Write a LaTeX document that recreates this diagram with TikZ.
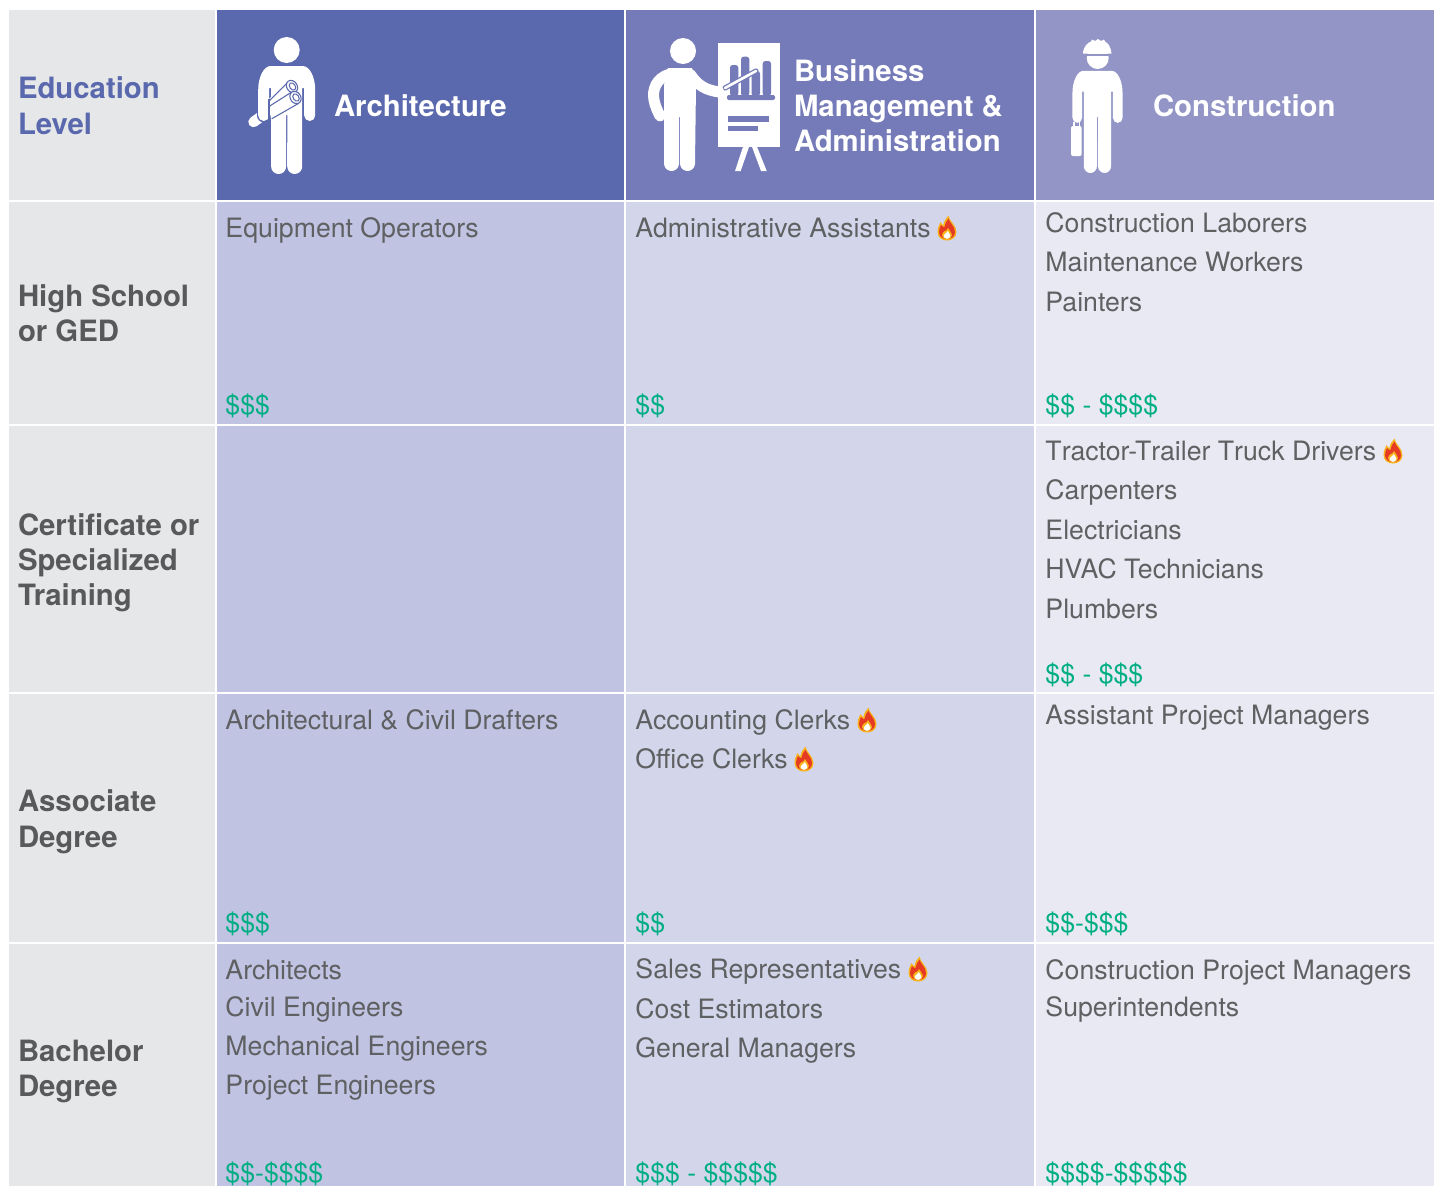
\documentclass[tikz,border=0pt]{standalone}
\usepackage{fontspec}
\setmainfont{TeX Gyre Heros}
\definecolor{hA}{HTML}{5A68AD}
\definecolor{hB}{HTML}{747BB8}
\definecolor{hC}{HTML}{9295C6}
\definecolor{cA}{HTML}{C0C3E2}
\definecolor{cB}{HTML}{D3D6EA}
\definecolor{cC}{HTML}{E9E9F3}
\definecolor{cL}{HTML}{E6E7E8}
\definecolor{txt}{HTML}{5F6062}
\definecolor{boldtxt}{HTML}{58595B}
\definecolor{money}{HTML}{00AE84}
\definecolor{flameR}{HTML}{E53B24}
\definecolor{flameY}{HTML}{F7B21C}
\tikzset{
  x=0.75pt,y=-0.75pt,
  txtbase/.style={anchor=base west,inner sep=0,outer sep=0,text=txt,font=\fontsize{20}{24}\selectfont},
  line/.style={txtbase,xshift=-0.4pt,yshift=0.75pt},
  pay/.style={txtbase,xshift=-0.4pt,text=money},
  rowhead/.style={txtbase,text=boldtxt,font=\fontsize{22}{26}\selectfont\bfseries},
  eduhead/.style={rowhead,text=hA},
  colhead/.style={rowhead,text=white},
  flame/.pic={
    \fill[flameY] (1.5,-12.5) .. controls (2,-7) and (9.5,-3) .. (9.5,4) .. controls (9.5,9.5) and (5,12.5) .. (0,12.5) .. controls (-5,12.5) and (-9.5,9.5) .. (-9.5,4) .. controls (-9.5,-1) and (-7.5,-3) .. (-6.5,-6) .. controls (-5.5,-4) and (-4.5,-3) .. (-3.5,-3) .. controls (-3,-7) and (-1,-10) .. (1.5,-12.5) -- cycle;
    \fill[flameR] (1.5,-9.5) .. controls (2.5,-5) and (8,-2) .. (8,4) .. controls (8,8.5) and (4.5,11) .. (0,11) .. controls (-4.5,11) and (-8,8.5) .. (-8,4) .. controls (-8,1) and (-7,-1) .. (-6,-3) .. controls (-5,-1.5) and (-3.5,-1) .. (-2.5,-1) .. controls (-2.5,-4) and (-0.5,-7) .. (1.5,-9.5) -- cycle;
    \fill[flameY] (1,0) .. controls (2,3) and (5,4) .. (5,7) .. controls (5,9.5) and (3,11) .. (0,11) .. controls (-3,11) and (-5,9.5) .. (-5,7) .. controls (-5,5) and (-3.5,4.5) .. (-2.5,3) .. controls (-1.5,3.5) and (0,2) .. (1,0) -- cycle;
    \fill[white] (0.7,3) .. controls (1.5,5) and (3.4,6) .. (3.4,8) .. controls (3.4,9.8) and (1.5,10.8) .. (0,10.8) .. controls (-1.5,10.8) and (-3.4,9.8) .. (-3.4,8) .. controls (-3.4,6.5) and (-1.5,6) .. (-1,5) .. controls (-0.5,5) and (0.3,4) .. (0.7,3) -- cycle;
  },
  standing/.pic={
    \fill[white] (-16,16) -- (16,16) .. controls (23,16) and (28.5,27) .. (28.5,40) -- (28.5,65.5)
      arc[start angle=0,end angle=180,radius=5.5] -- (17.5,38) -- (15.5,38) -- (15.5,116.5)
      arc[start angle=0,end angle=180,radius=7.5] -- (0.6,65) -- (-0.6,65) -- (-0.6,116.5)
      arc[start angle=0,end angle=180,radius=7.5] -- (-15.5,38) -- (-17.5,38) -- (-17.5,65.5)
      arc[start angle=0,end angle=180,radius=5.5] -- (-28.5,40) .. controls (-28.5,27) and (-23,16) .. (-16,16) -- cycle;
  },
}
\begin{document}
\begin{tikzpicture}
\path[use as bounding box] (0,0) rectangle (1434,1186);
\clip (0,0) rectangle (1434,1186);
\fill[white] (0,0) rectangle (1434,1186);
% ---- grid cells
\newcommand{\cell}[6]{\fill[#6] (#2,#3) rectangle (#4,#5) coordinate (#1);}
\cell{c00}{9}{10}{215}{200}{cL}
\cell{c01}{217}{10}{624}{200}{hA}
\cell{c02}{626}{10}{1034}{200}{hB}
\cell{c03}{1036}{10}{1434}{200}{hC}
\cell{c10}{9}{202}{215}{423.5}{cL}
\cell{c11}{217}{202}{624}{423.5}{cA}
\cell{c12}{626}{202}{1034}{423.5}{cB}
\cell{c13}{1036}{202}{1434}{423.5}{cC}
\cell{c20}{9}{425.5}{215}{692}{cL}
\cell{c21}{217}{425.5}{624}{692}{cA}
\cell{c22}{626}{425.5}{1034}{692}{cB}
\cell{c23}{1036}{425.5}{1434}{692}{cC}
\cell{c30}{9}{694}{215}{942}{cL}
\cell{c31}{217}{694}{624}{942}{cA}
\cell{c32}{626}{694}{1034}{942}{cB}
\cell{c33}{1036}{694}{1434}{942}{cC}
\cell{c40}{9}{944}{215}{1186}{cL}
\cell{c41}{217}{944}{624}{1186}{cA}
\cell{c42}{626}{944}{1034}{1186}{cB}
\cell{c43}{1036}{944}{1434}{1186}{cC}
% ---- row and column heads
\node[eduhead] (edu1) at (18,98) {Education};
\node[eduhead] (edu2) at (18,134) {Level};
\node[rowhead] (hs1) at (18,306) {High School};
\node[rowhead] (hs2) at (18,341) {or GED};
\node[rowhead] (ce1) at (18,535) {Certificate or};
\node[rowhead] (ce2) at (18,570) {Specialized};
\node[rowhead] (ce3) at (18,605) {Training};
\node[rowhead] (as1) at (18,811) {Associate};
\node[rowhead] (as2) at (18,847) {Degree};
\node[rowhead] (ba1) at (18,1061) {Bachelor};
\node[rowhead] (ba2) at (18,1096) {Degree};
\node[colhead] (arch) at (334,116) {Architecture};
\node[colhead] (bus1) at (794,81) {Business};
\node[colhead] (bus2) at (794,116) {Management \&};
\node[colhead] (bus3) at (794,151) {Administration};
\node[colhead] (cons) at (1153,116) {Construction};
% ---- architecture figure
\draw[white,line width=10.5*0.75pt,line cap=round] (253.5,122) -- (266,113);
\draw[hA,line width=13.5*0.75pt,line cap=round] (263.7,100) -- (263.7,115.5);
\fill[white] (286.7,50) circle[radius=13];
\pic at (286.7,50) {standing};
\fill[white] (269,99) -- (288,80) -- (299,103) -- (271,119.5) -- cycle;
\begin{scope}[hA,line width=0.8pt]
\draw (269.3,100.7) -- (288.3,81.7);
\draw (269,106.5) -- (292.5,91.5);
\draw (271.7,118.8) -- (298.7,103.3);
\draw (269,99) -- (269,119);
\draw[fill=white,rotate around={35:(292,86.5)}] (292,86.5) ellipse[x radius=5.2,y radius=6.5];
\draw[fill=white,rotate around={35:(295.5,97.5)}] (295.5,97.5) ellipse[x radius=5.2,y radius=6.5];
\draw[rotate around={35:(292.5,86.5)}] (292.5,86.5) ellipse[x radius=2.8,y radius=4];
\draw[rotate around={35:(296,97.5)}] (296,97.5) ellipse[x radius=2.8,y radius=4];
\end{scope}
% ---- presenter figure
\fill[white] (683,51) circle[radius=13];
\fill[white] (668,68) -- (692,68) -- (696,85) -- (695,163.5) arc[start angle=0,end angle=180,radius=7.5]
  -- (680,117) -- (679,117) -- (679,163.5) arc[start angle=0,end angle=180,radius=7.5] -- (664,85) -- cycle;
\draw[white,line width=11*0.75pt,line cap=round] (670,74) .. controls (656,78) and (652,90) .. (654,100) .. controls (655,106) and (658,112) .. (660,116);
\draw[white,line width=11*0.75pt,line cap=round] (690,74) .. controls (698,86) and (706,90) .. (719,92);
\fill[white] (718,42.7) rectangle (780,146.7);
\fill[white] (743.3,146) -- (749.3,146) -- (740.7,171) -- (735,171) -- cycle;
\fill[white] (751.7,146) -- (756.7,146) -- (766.7,171) -- (761,171) -- cycle;
\begin{scope}[hB]
\fill[rounded corners=2pt] (730,96) -- (730,65) -- (738.3,65) -- (738.3,96) -- cycle;
\fill[rounded corners=2pt] (741,96) -- (741,56.7) -- (749.3,56.7) -- (749.3,96) -- cycle;
\fill[rounded corners=2pt] (751.5,96) -- (751.5,71) -- (760,71) -- (760,96) -- cycle;
\fill[rounded corners=2pt] (762.7,96) -- (762.7,61) -- (771,61) -- (771,96) -- cycle;
\fill[rounded corners=1.5pt] (727,95) rectangle (775,100);
\fill (728,116) rectangle (769,121.5);
\fill (728,125.5) rectangle (757.5,131);
\end{scope}
\draw[hB,line width=5.2*0.75pt,line cap=round] (725,88) -- (756,71);
\draw[white,line width=2.6*0.75pt,line cap=round] (725,88) -- (756,71);
\fill[white] (719,92) circle[radius=5.5];
% ---- construction figure
\fill[white] (1097.7,58) circle[radius=11];
\fill[white] (1083,53.5) .. controls (1083,46) and (1089,42) .. (1091,41.5) -- (1092,39.5) -- (1095,41) -- (1098,39) -- (1101,41) -- (1104,39.5) -- (1105,41.5) .. controls (1108,43) and (1111,47) .. (1111.5,53.5) -- cycle;
\draw[hC,line width=1pt] (1085,55) -- (1110.5,55);
\begin{scope}[shift={(1097.5,55.7)},xscale=.88,yscale=.946]
\pic[transform shape] {standing};
\end{scope}
\fill[white,rounded corners=1.5pt] (1071,126) rectangle (1081.7,156);
\fill[white] (1073,122) rectangle (1074.5,127);
\fill[white] (1078.5,122) rectangle (1080,127);
% ---- cell texts
\node[line] (a1) at (226,238) {Equipment Operators};
\node[pay] (ap1) at (226,414) {\$\$\$};
\node[line] (b1) at (636,238) {Administrative Assistants};
\pic at (947,228) {flame};
\node[pay] (bp1) at (636,414) {\$\$};
\node[line] (c1a) at (1046,233) {Construction Laborers};
\node[line] (c1b) at (1046,272) {Maintenance Workers};
\node[line] (c1c) at (1046,312) {Painters};
\node[pay] (cp1) at (1046,414) {\$\$ - \$\$\$\$};
\node[line] (c2a) at (1046,461) {T\kern0pt ractor-T\kern0pt railer T\kern0pt ruck Drivers};
\pic at (1393,451) {flame};
\node[line] (c2b) at (1046,500) {Carpenters};
\node[line] (c2c) at (1046,540) {Electricians};
\node[line] (c2d) at (1046,579) {HVAC Technicians};
\node[line] (c2e) at (1046,619) {Plumbers};
\node[pay] (cp2) at (1046,683) {\$\$ - \$\$\$};
\node[line] (a3) at (226,730) {Architectural \& Civil Drafters};
\node[pay] (ap3) at (226,932) {\$\$\$};
\node[line] (b3a) at (636,730) {Accounting Clerks};
\pic at (867,720) {flame};
\node[line] (b3b) at (636,769) {Office Clerks};
\pic at (804,759) {flame};
\node[pay] (bp3) at (636,932) {\$\$};
\node[line] (c3) at (1046,725) {Assistant Project Managers};
\node[pay] (cp3) at (1046,932) {\$\$-\$\$\$};
\node[line] (a4a) at (226,980) {Architects};
\node[line] (a4b) at (226,1017) {Civil Engineers};
\node[line] (a4c) at (226,1056) {Mechanical Engineers};
\node[line] (a4d) at (226,1095) {Project Engineers};
\node[pay] (ap4) at (226,1182) {\$\$-\$\$\$\$};
\node[line] (b4a) at (636,979) {Sales Representatives};
\pic at (918,969) {flame};
\node[line] (b4b) at (636,1019) {Cost Estimators};
\node[line] (b4c) at (636,1058) {General Managers};
\node[pay] (bp4) at (636,1182) {\$\$\$ - \$\$\$\$\$};
\node[line] (c4a) at (1046,980) {Construction Project Managers};
\node[line] (c4b) at (1046,1017) {Superintendents};
\node[pay] (cp4) at (1046,1182) {\$\$\$\$-\$\$\$\$\$};
\end{tikzpicture}
\end{document}
